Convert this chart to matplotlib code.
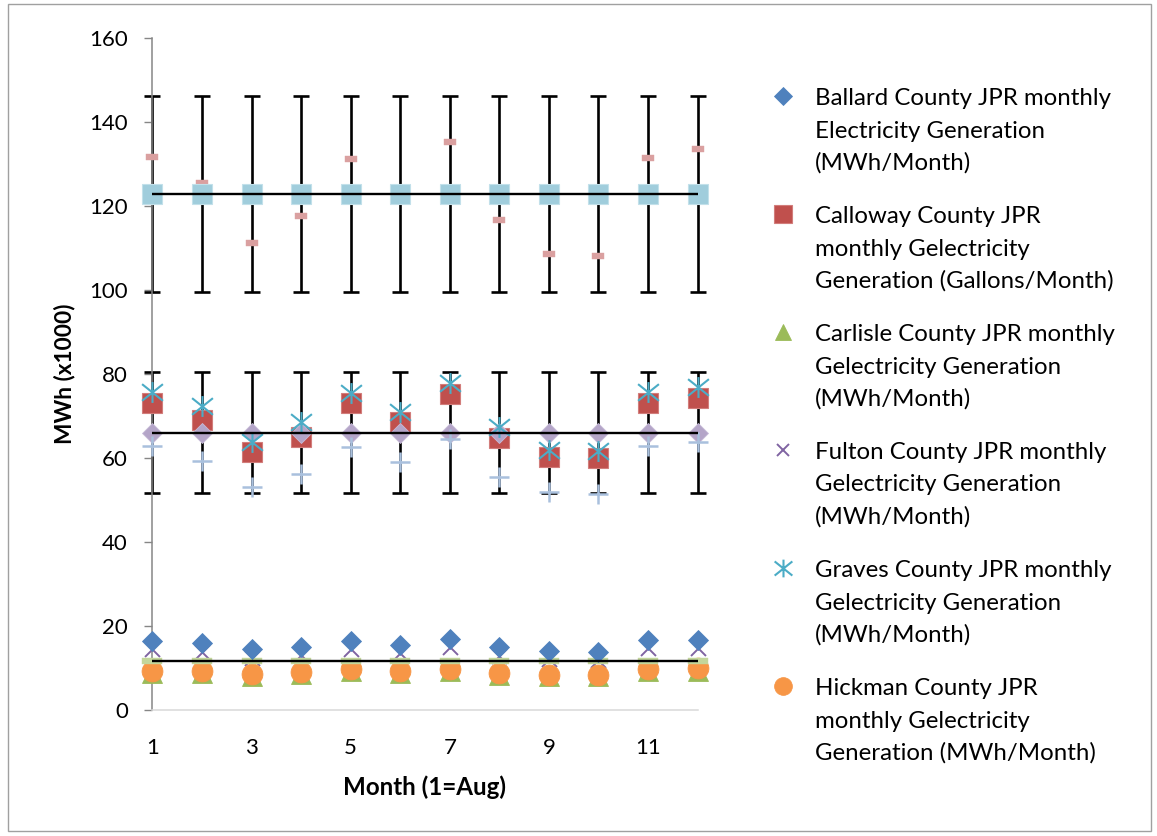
import numpy as np
import matplotlib
matplotlib.use("Agg")
import matplotlib.pyplot as plt
from matplotlib.path import Path
from matplotlib.lines import Line2D
from matplotlib.patches import Rectangle

plt.rcParams['font.family'] = ['Lato', 'DejaVu Sans']

# ---- data (thousands of MWh per month, month 1 = August) ----
months = np.arange(1, 13)

ballard = [16.4, 15.9, 14.5, 15.0, 16.5, 15.5, 16.9, 14.9, 14.1, 13.9, 16.7, 16.7]
calloway = [73.1, 69.1, 61.5, 65.1, 73.1, 68.7, 75.2, 64.9, 60.3, 60.1, 73.1, 74.3]
carlisle = [8.8, 8.9, 8.1, 8.5, 9.2, 8.9, 9.3, 8.3, 8.0, 8.0, 9.2, 9.4]
fulton = [14.5, 13.9, 12.5, 13.0, 14.5, 13.5, 14.9, 12.9, 12.1, 11.9, 14.7, 14.7]
graves = [75.8, 72.3, 63.9, 68.7, 75.6, 71.1, 77.8, 67.3, 61.9, 61.8, 75.7, 76.9]
hickman = [9.3, 9.4, 8.5, 9.0, 9.7, 9.4, 9.8, 8.8, 8.4, 8.4, 9.8, 9.9]

# supporting series plotted without legend entries
calloway_gallons = [131.7, 125.5, 111.2, 117.6, 131.2, 123.6, 135.2, 116.7, 108.7, 108.1, 131.4, 133.6]
graves_adjusted = [62.9, 59.2, 53.0, 56.2, 62.6, 59.0, 64.6, 55.6, 51.9, 51.5, 62.9, 63.9]

# group averages and their error ranges (top, middle, bottom)
group_mean = [122.9, 66.1, 11.75]
group_err = [23.45, 14.5, 0.0]

y_ticks = [0, 20, 40, 60, 80, 100, 120, 140, 160]
x_ticks = [1, 3, 5, 7, 9, 11]

labels = [
    "Ballard County JPR monthly\nElectricity Generation\n(MWh/Month)",
    "Calloway County JPR\nmonthly Gelectricity\nGeneration (Gallons/Month)",
    "Carlisle County JPR monthly\nGelectricity Generation\n(MWh/Month)",
    "Fulton County JPR monthly\nGelectricity Generation\n(MWh/Month)",
    "Graves County JPR monthly\nGelectricity Generation\n(MWh/Month)",
    "Hickman County JPR\nmonthly Gelectricity\nGeneration (MWh/Month)",
]

# ---- colours ----
c_blue = '#4F81BD'
c_red = '#C0504D'
c_green = '#9BBB59'
c_purple = '#8064A2'
c_teal = '#4BACC6'
c_orange = '#F79646'

# ---- custom marker shapes ----
star = Path([(-1, -0.8), (1, 0.8), (-1, 0.8), (1, -0.8), (0, -1), (0, 1)],
            [Path.MOVETO, Path.LINETO, Path.MOVETO, Path.LINETO, Path.MOVETO, Path.LINETO])
short_dash = Path([(-1, -0.48), (1, -0.48), (1, 0.48), (-1, 0.48), (-1, -0.48)],
                  [Path.MOVETO, Path.LINETO, Path.LINETO, Path.LINETO, Path.CLOSEPOLY])
wide_dash = Path([(-1, -0.33), (1, -0.33), (1, 0.33), (-1, 0.33), (-1, -0.33)],
                 [Path.MOVETO, Path.LINETO, Path.LINETO, Path.LINETO, Path.CLOSEPOLY])

W, H = 1157, 836
fig = plt.figure(figsize=(W / 100, H / 100), dpi=100)
ax = fig.add_axes([152.5 / W, (H - 710) / H, 545 / W, 671.7 / H])

# series styles, in legend order
styles = [
    (ballard, dict(marker='D', ms=10.5, color=c_blue, mec=c_blue, mew=0.6, zorder=6)),
    (calloway, dict(marker='s', ms=15, color=c_red, mec='#D27D7B', mew=0.8, zorder=3)),
    (carlisle, dict(marker='^', ms=13.7, color=c_green, mec=c_green, mew=0.6, zorder=3)),
    (fulton, dict(marker='x', ms=10.8, color=c_purple, mew=1.4, zorder=4)),
    (graves, dict(marker=star, ms=15, color=c_teal, mfc='none', mew=1.5, zorder=7)),
    (hickman, dict(marker='o', ms=15, color=c_orange, mec=c_orange, mew=0.6, zorder=4)),
]

for data, kw in styles:
    ax.plot(months, data, ls='none', clip_on=False, **kw)

ax.plot(months, calloway_gallons, ls='none', marker=short_dash, ms=8.9,
        color='#DAA0A0', mec='#DAA0A0', mew=0.3, clip_on=False, zorder=3)
ax.plot(months, graves_adjusted, ls='none', marker='+', ms=14.4, mew=1.8,
        color='#A9C0DD', clip_on=False, zorder=6)

# group averages with error bars
mean_styles = [
    dict(marker='s', ms=15, color='#A0CDDC', mec='#C2E0EA', mew=0.8),
    dict(marker='D', ms=10.5, color='#B4A5C8', mec='#C8BCD8', mew=0.6),
    dict(marker=wide_dash, ms=15, color='#C3D69B', mec='#C3D69B', mew=0.3),
]
for m, e, kw in zip(group_mean, group_err, mean_styles):
    mean_row = np.full(len(months), m)
    if e > 0:
        ax.errorbar(months, mean_row, yerr=e, fmt='none', ecolor='black',
                    elinewidth=1.9, capsize=5.8, capthick=1.9, clip_on=False, zorder=2)
    ax.plot(months, mean_row, ls='none', clip_on=False, zorder=5, **kw)
    ax.plot([months[0], months[-1]], [m, m], color='black', lw=1.7,
            solid_capstyle='butt', clip_on=False, zorder=8)

ax.set_xlim(1, 12)
ax.set_ylim(0, 160)
ax.set_xticks(x_ticks)
ax.set_yticks(y_ticks)
ax.tick_params(axis='y', direction='out', length=5.8, width=1.0, color='#868686',
               labelsize=16, pad=12, labelcolor='black')
ax.tick_params(axis='x', length=0, labelsize=16, pad=20, labelcolor='black')
for side in ('top', 'right'):
    ax.spines[side].set_visible(False)
ax.spines['left'].set_color('#868686')
ax.spines['left'].set_linewidth(1.1)
ax.spines['bottom'].set_color('#D9D9D9')
ax.spines['bottom'].set_linewidth(1.1)

ax.set_xlabel('Month (1=Aug)', fontsize=17.4, fontweight='bold', va='center')
ax.xaxis.set_label_coords(0.5, -0.1146)
ax.set_ylabel('MWh (x1000)', fontsize=16.3, fontweight='bold', va='center', ha='center')
ax.yaxis.set_label_coords(-0.1606, 0.5)

# legend drawn entry by entry
legend_marker_scale = 0.85
for k, ((data, kw), text) in enumerate(zip(styles, labels)):
    yc = 95.8 + 118.0 * k
    kw_leg = {key: val for key, val in kw.items() if key != 'zorder'}
    kw_leg['ms'] = kw['ms'] * legend_marker_scale
    fig.add_artist(Line2D([783 / W], [1 - yc / H], ls='none',
                          transform=fig.transFigure, **kw_leg))
    for j, line in enumerate(text.split('\n')):
        yb = 105.0 + 118.0 * k + 32.5 * j
        fig.text(815 / W, 1 - yb / H, line, fontsize=17.3, va='baseline', ha='left',
                 color='black')

# chart border
fig.add_artist(Rectangle((8 / W, 1 - 831 / H), 1143 / W, 827 / H, transform=fig.transFigure,
                         fill=False, ec='#A0A0A0', lw=1.0))

fig.savefig('out.png', dpi=100)
